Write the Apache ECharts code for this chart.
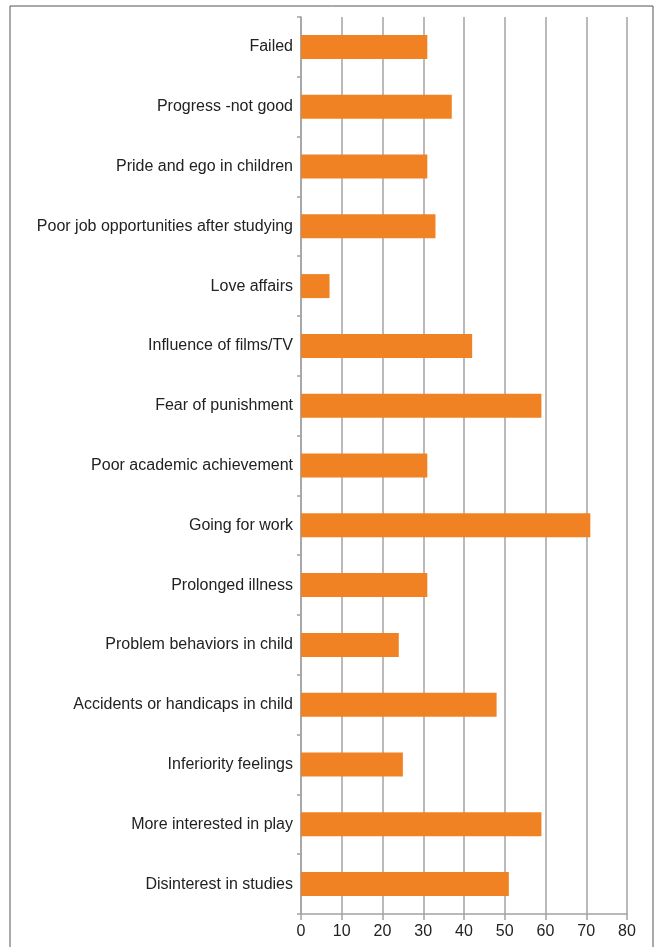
<!DOCTYPE html>
<html><head><meta charset="utf-8">
<script src="https://cdn.jsdelivr.net/npm/echarts@6/dist/echarts.min.js"></script>
<style>html,body{margin:0;padding:0;background:#fff}#c{width:657px;height:947px}</style>
</head><body><div id="c"></div>
<script>
const categories = ["Disinterest in studies","More interested in play","Inferiority feelings","Accidents or handicaps in child","Problem behaviors in child","Prolonged illness","Going for work","Poor academic achievement","Fear of punishment","Influence of films/TV","Love affairs","Poor job opportunities after studying","Pride and ego in children","Progress -not good","Failed"];
const values = [51,59,25,48,24,31,71,31,59,42,7,33,31,37,31];
const xTicks = [0,10,20,30,40,50,60,70,80];

const chart = echarts.init(document.getElementById('c'), null, {renderer:'canvas'});
const gridCol = '#a3a3a7';
const font = "'Liberation Sans', Arial, sans-serif";
chart.setOption({
  animation:false,
  graphic:[{type:'rect',shape:{x:10,y:6,width:643,height:960},style:{fill:'none',stroke:'#555',lineWidth:1},z:-1}],
  grid:{left:301,right:30,top:17,bottom:33},
  xAxis:{type:'value',min:xTicks[0],max:xTicks[xTicks.length-1],interval:10,
    axisLine:{show:true,lineStyle:{color:gridCol,width:1.5}},
    axisTick:{show:true,length:6,lineStyle:{color:gridCol,width:1.5}},
    splitLine:{show:true,lineStyle:{color:gridCol,width:1.5}},
    axisLabel:{color:'#222',fontFamily:font,fontSize:16,margin:10}},
  yAxis:{type:'category',data:categories,
    axisLine:{show:true,lineStyle:{color:gridCol,width:1.5}},
    axisTick:{show:true,length:4,lineStyle:{color:gridCol,width:1.5}},
    axisLabel:{color:'#222',fontFamily:font,fontSize:16,margin:8}},
  series:[{type:'bar',data:values,barWidth:24,itemStyle:{color:'#f08223'},z:3}]
});
</script></body></html>
